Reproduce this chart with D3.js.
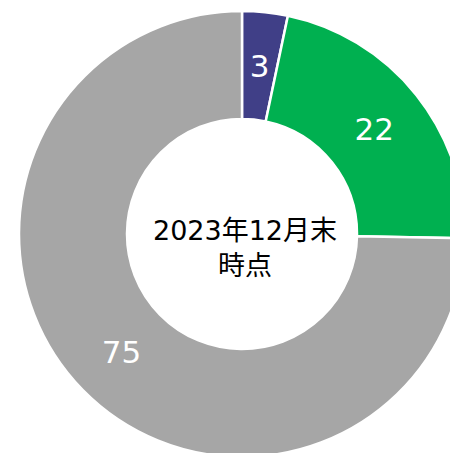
<!DOCTYPE html>
<html>
<head>
<meta charset="utf-8">
<script src="https://cdn.jsdelivr.net/npm/d3@7"></script>
<style>
  html, body { margin: 0; padding: 0; background: #ffffff; }
  svg { display: block; }
</style>
</head>
<body>
<div id="chart"></div>
<script>
const categories = ["A", "B", "C"];
const values = [3.3, 22.0, 74.7];
const labels = ["3", "22", "75"];
const colors = ["#403F87", "#00B050", "#A6A6A6"];
const centerLines = ["2023年12月末", "時点"];

const width = 450, height = 453;
const cx = 242, cy = 234;
const outerR = 223, innerR = 115;

const svg = d3.select("#chart").append("svg")
  .attr("width", width).attr("height", height);

const g = svg.append("g").attr("transform", `translate(${cx},${cy})`);

const data = categories.map((c, i) => ({ cat: c, value: values[i], label: labels[i], color: colors[i] }));

const pie = d3.pie().sort(null).value(d => d.value).startAngle(0).endAngle(2 * Math.PI);
const arc = d3.arc().innerRadius(innerR).outerRadius(outerR);
const labelArc = d3.arc().innerRadius((innerR + outerR) / 2).outerRadius((innerR + outerR) / 2);

const arcs = pie(data);

g.selectAll("path.slice").data(arcs).join("path")
  .attr("class", "slice")
  .attr("d", arc)
  .attr("fill", d => d.data.color)
  .attr("stroke", "#ffffff")
  .attr("stroke-width", 2.5)
  .attr("stroke-linejoin", "miter");

g.selectAll("text.lbl").data(arcs).join("text")
  .attr("class", "lbl")
  .attr("transform", d => `translate(${labelArc.centroid(d)})`)
  .attr("text-anchor", "middle")
  .attr("dominant-baseline", "central")
  .attr("font-family", "'DejaVu Sans', sans-serif")
  .attr("font-size", 31)
  .attr("fill", "#ffffff")
  .text(d => d.data.label);

svg.append("g").selectAll("text").data(centerLines).join("text")
  .attr("x", 245)
  .attr("y", (d, i) => 240 + i * 35)
  .attr("text-anchor", "middle")
  .attr("font-family", "'DejaVu Sans', 'Noto Sans CJK JP', sans-serif")
  .attr("font-size", 27)
  .attr("fill", "#000000")
  .text(d => d);
</script>
</body>
</html>
